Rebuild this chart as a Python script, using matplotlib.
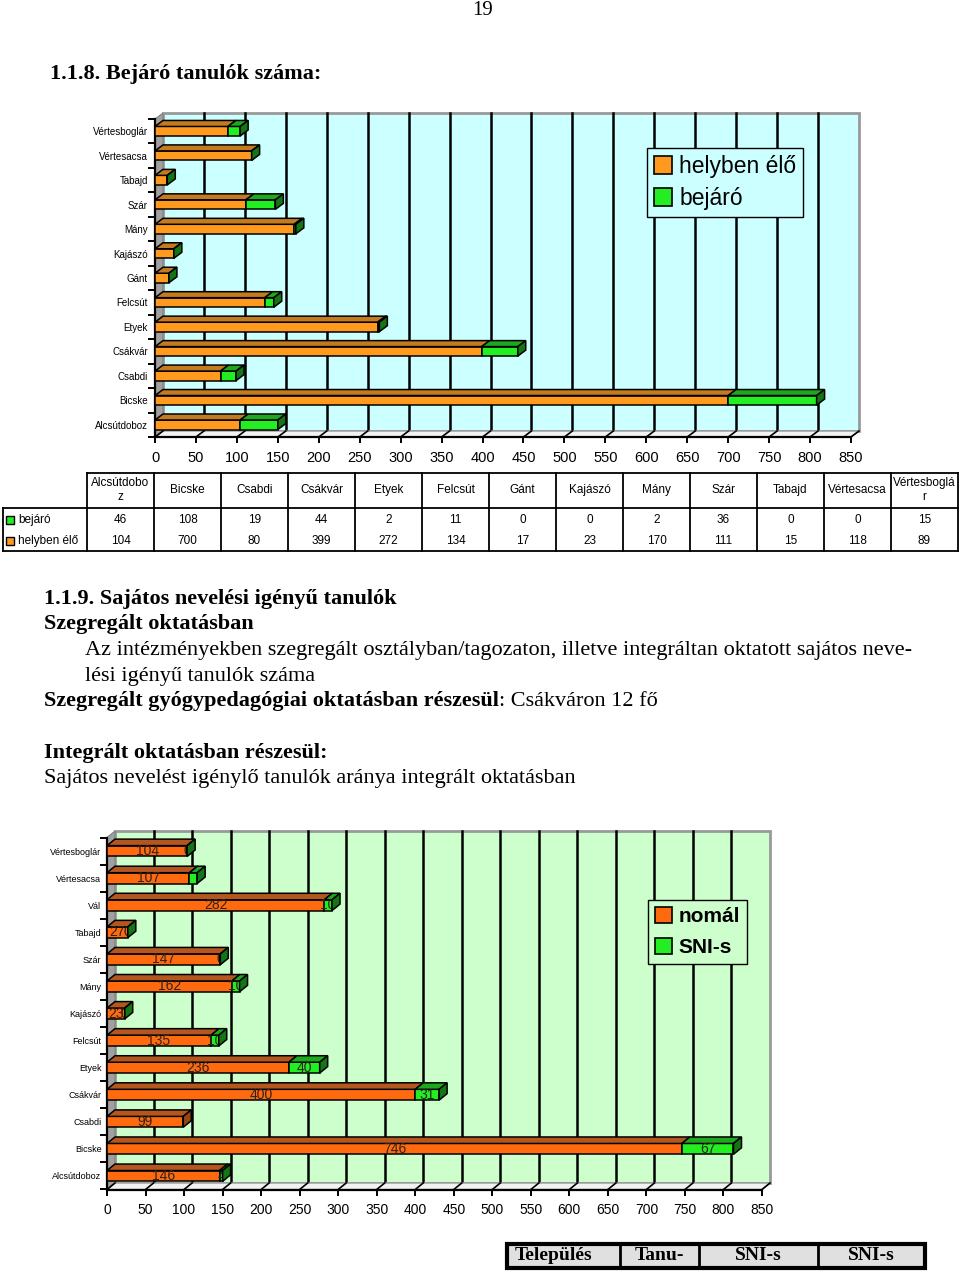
import numpy as np
import matplotlib.pyplot as plt
from matplotlib.patches import Polygon, Patch

plt.rcParams['font.family'] = ['Liberation Sans', 'DejaVu Sans']
SERIF = ['Liberation Serif', 'DejaVu Serif']

# ── data ─────────────────────────────────────────────────────────────────────
towns1 = ["Alcsútdoboz", "Bicske", "Csabdi", "Csákvár", "Etyek", "Felcsút", "Gánt",
          "Kajászó", "Mány", "Szár", "Tabajd", "Vértesacsa", "Vértesboglár"]
helyben = [104, 700, 80, 399, 272, 134, 17, 23, 170, 111, 15, 118, 89]
bejaro = [46, 108, 19, 44, 2, 11, 0, 0, 2, 36, 0, 0, 15]
head_wrap = {"Alcsútdoboz": "Alcsútdobo\nz", "Vértesboglár": "Vértesboglá\nr"}

towns2 = ["Alcsútdoboz", "Bicske", "Csabdi", "Csákvár", "Etyek", "Felcsút", "Kajászó",
          "Mány", "Szár", "Tabajd", "Vál", "Vértesacsa", "Vértesboglár"]
nomal = [146, 746, 99, 400, 236, 135, 23, 162, 147, 27, 282, 107, 104]
sni = [4, 67, None, 31, 40, 10, 0, 10, 0, 0, 10, 10, 0]
sni_no_label = ["Vértesacsa"]

bottom_head = ["Település", "Tanu-", "SNI-s", "SNI-s"]

# colours
wall1, wall2 = "#CCFFFF", "#CCFFCC"
or1, or1_top = "#FF9A1F", "#C47A1E"
or2, or2_top, or2_end = "#FF6A0E", "#B5561E", "#96460F"
gr, gr_top, gr_end = "#22EE22", "#1EA81E", "#137513"

W, H = 960, 1273
fig = plt.figure(figsize=(W / 100, H / 100), dpi=100)
page = fig.add_axes([0, 0, 1, 1])
page.set_xlim(0, W)
page.set_ylim(H, 0)
page.axis("off")


def px_axes(left, top, width, height):
    return fig.add_axes([left / W, 1 - (top + height) / H, width / W, height / H])


def frame3d(ax, xmax, n, dx, dy, wall):
    y0, y1 = -0.5, n - 0.5
    ax.add_patch(Polygon([(dx, y0 + dy), (xmax + dx, y0 + dy), (xmax + dx, y1 + dy), (dx, y1 + dy)],
                         fc=wall, ec="#999999", lw=2, zorder=0.5, clip_on=False))
    ax.add_patch(Polygon([(0, y0), (dx, y0 + dy), (dx, y1 + dy), (0, y1)],
                         fc="#A0A0A0", ec="#808080", lw=0.8, zorder=0.7, clip_on=False))
    ax.add_patch(Polygon([(0, y0), (xmax, y0), (xmax + dx, y0 + dy), (dx, y0 + dy)],
                         fc="#F2F2F2", ec="#999999", lw=1, zorder=0.7, clip_on=False))
    for v in np.arange(0, xmax + 1, 50):
        if 0 < v < xmax:
            ax.plot([v + dx, v + dx], [y0 + dy, y1 + dy], color="black", lw=1.8,
                    zorder=0.6, clip_on=False)
        ax.plot([v, v + dx], [y0, y0 + dy], color="black", lw=1.2, zorder=0.8, clip_on=False)
    ax.set_xlim(0, xmax)
    ax.set_ylim(y0, y1)
    ax.patch.set_visible(False)
    for s in ["top", "right"]:
        ax.spines[s].set_visible(False)
    for s in ["left", "bottom"]:
        ax.spines[s].set_linewidth(1.6)
    ax.set_xticks(np.arange(0, xmax + 1, 50))
    ax.set_yticks(np.arange(-0.5, n, 1), minor=True)
    ax.tick_params(axis="y", which="minor", length=5, width=1.4, direction="out")
    ax.tick_params(axis="x", length=4, width=1.4, direction="out", pad=6)


def faces3d(ax, y, left, width, h, dx, dy, top_col, zo=3):
    x0, x1 = left, left + width
    yt = y + h / 2
    ax.add_patch(Polygon([(x0, yt), (x1, yt), (x1 + dx, yt + dy), (x0 + dx, yt + dy)],
                         fc=top_col, ec="black", lw=1.1, zorder=zo, clip_on=False))


def end3d(ax, y, x, h, dx, dy, col, zo=5):
    ax.add_patch(Polygon([(x, y - h / 2), (x + dx, y - h / 2 + dy), (x + dx, y + h / 2 + dy), (x, y + h / 2)],
                         fc=col, ec="black", lw=1.1, zorder=zo, clip_on=False))


# ── page text ────────────────────────────────────────────────────────────────
page.text(483, 1, "19", family=SERIF, fontsize=15, ha="center", va="top")
page.text(50, 74, "1.1.8. Bejáró tanulók száma:", family=SERIF, fontsize=16,
          weight="bold", va="center")

# ── chart 1: bejáró tanulók ──────────────────────────────────────────────────
n1 = len(towns1)
ax1 = px_axes(155, 119, 696, 318)
dx1 = 8 * 850 / 696
dy1 = 6 * n1 / 318
frame3d(ax1, 850, n1, dx1, dy1, wall1)
y1 = np.arange(n1)
h1 = 0.39
ax1.barh(y1, helyben, height=h1, color=or1, edgecolor="black", lw=1.1, zorder=3)
ax1.barh(y1, bejaro, left=helyben, height=h1, color=gr, edgecolor="black", lw=1.1, zorder=3)
for i in range(n1):
    faces3d(ax1, i, 0, helyben[i], h1, dx1, dy1, or1_top)
    faces3d(ax1, i, helyben[i], bejaro[i], h1, dx1, dy1, gr_top)
    end3d(ax1, i, helyben[i] + bejaro[i], h1, dx1, dy1, gr_end)
ax1.set_yticks(y1)
ax1.set_yticklabels(towns1, fontsize=7)
ax1.tick_params(axis="y", which="major", length=0, pad=5)
ax1.tick_params(axis="x", labelsize=10.5)

fig.legend(handles=[Patch(fc=or1, ec="black", lw=1.2, label="helyben élő"),
                    Patch(fc=gr, ec="black", lw=1.2, label="bejáró")],
           loc="upper left", bbox_to_anchor=(647 / W, 1 - 148 / H), borderaxespad=0,
           fontsize=16.5, frameon=True, fancybox=False, edgecolor="black", facecolor=wall1,
           framealpha=1, handlelength=0.8, handleheight=0.8, handletextpad=0.3,
           labelspacing=0.4, borderpad=0.3)

# data table under chart 1
col_l, col_w = 87, 67
t_top, t_mid, t_bot = 473, 508, 551
fs_t = 8.5
for j, t in enumerate(towns1):
    cx = col_l + col_w * (j + 0.5)
    page.text(cx, 490, head_wrap.get(t, t), fontsize=fs_t, ha="center", va="center",
              linespacing=1.3)
    page.text(cx, 520, str(bejaro[j]), fontsize=fs_t, ha="center", va="center")
    page.text(cx, 541, str(helyben[j]), fontsize=fs_t, ha="center", va="center")
x_end = col_l + col_w * n1
page.plot([col_l, x_end], [t_top, t_top], color="black", lw=1.3)
page.plot([3, x_end], [t_mid, t_mid], color="black", lw=1.3)
page.plot([3, x_end], [t_bot, t_bot], color="black", lw=1.3)
page.plot([3, 3], [t_mid, t_bot], color="black", lw=1.3)
for j in range(n1 + 1):
    page.plot([col_l + col_w * j] * 2, [t_top, t_bot], color="black", lw=1.3)
for yy, lab, c in [(520, "bejáró", gr), (541, "helyben élő", or1)]:
    page.add_patch(plt.Rectangle((6, yy - 4), 8, 8, fc=c, ec="black", lw=1))
    page.text(18, yy, lab, fontsize=fs_t, va="center")

# ── section text ─────────────────────────────────────────────────────────────
fs_s = 16
page.text(44, 599, "1.1.9. Sajátos nevelési igényű tanulók", family=SERIF, fontsize=fs_s,
          weight="bold", va="center")
page.text(44, 624, "Szegregált oktatásban", family=SERIF, fontsize=fs_s, weight="bold",
          va="center")
page.text(85, 651, "Az intézményekben szegregált osztályban/tagozaton, illetve integráltan "
          "oktatott sajátos neve-", family=SERIF, fontsize=fs_s, va="center")
page.text(85, 676, "lési igényű tanulók száma", family=SERIF, fontsize=fs_s, va="center")
t_b = page.text(44, 701, "Szegregált gyógypedagógiai oktatásban részesül", family=SERIF,
                fontsize=fs_s, weight="bold", va="center")
page.annotate(": Csákváron 12 fő", xy=(1, 0), xycoords=t_b, va="bottom", ha="left",
              family=SERIF, fontsize=fs_s)
page.text(44, 753, "Integrált oktatásban részesül:", family=SERIF, fontsize=fs_s,
          weight="bold", va="center")
page.text(44, 778, "Sajátos nevelést igénylő tanulók aránya integrált oktatásban",
          family=SERIF, fontsize=fs_s, va="center")

# ── chart 2: integrált oktatás ───────────────────────────────────────────────
n2 = len(towns2)
ax2 = px_axes(107, 837.5, 655, 352)
dx2 = 8 * 850 / 655
dy2 = 6.5 * n2 / 352
frame3d(ax2, 850, n2, dx2, dy2, wall2)
y2 = np.arange(n2)
h2 = 0.4
sni_v = [0 if v is None else v for v in sni]
ax2.barh(y2, nomal, height=h2, color=or2, edgecolor="black", lw=1.1, zorder=3)
ax2.barh(y2, sni_v, left=nomal, height=h2, color=gr, edgecolor="black", lw=1.1, zorder=3)
lab_col = "#2E221C"
for i in range(n2):
    faces3d(ax2, i, 0, nomal[i], h2, dx2, dy2, or2_top)
    ax2.text(nomal[i] / 2, i, str(nomal[i]), fontsize=10, color=lab_col,
             ha="center", va="center", zorder=4)
    if sni[i] is None:
        end3d(ax2, i, nomal[i], h2, dx2, dy2, or2_end)
        continue
    faces3d(ax2, i, nomal[i], sni[i], h2, dx2, dy2, gr_top)
    end3d(ax2, i, nomal[i] + sni[i], h2, dx2, dy2, gr_end)
    if towns2[i] not in sni_no_label:
        ax2.text(nomal[i] + sni[i] / 2, i, str(sni[i]), fontsize=10, color=lab_col,
                 ha="center", va="center", zorder=4)
ax2.set_yticks(y2)
ax2.set_yticklabels(towns2, fontsize=6.5)
ax2.tick_params(axis="y", which="major", length=0, pad=4)
ax2.tick_params(axis="x", labelsize=10)

fig.legend(handles=[Patch(fc=or2, ec="black", lw=1.2, label="nomál"),
                    Patch(fc=gr, ec="black", lw=1.2, label="SNI-s")],
           loc="upper left", bbox_to_anchor=(648 / W, 1 - 900 / H), borderaxespad=0,
           prop={"size": 15, "weight": "bold"}, frameon=True, fancybox=False,
           edgecolor="black", facecolor=wall2, framealpha=1, handlelength=0.8,
           handleheight=0.8, handletextpad=0.3, labelspacing=0.55, borderpad=0.35)

# ── start of the next table ──────────────────────────────────────────────────
edges = [507, 620, 699, 818, 925]
page.add_patch(plt.Rectangle((edges[0], 1244), edges[-1] - edges[0], 24, fc="#E0E0E0",
                             ec="black", lw=3))
for e in edges[1:-1]:
    page.plot([e, e], [1244, 1268], color="black", lw=2)
for k, lab in enumerate(bottom_head):
    if k == 0:
        page.text(edges[0] + 8, 1256, lab, family=SERIF, fontsize=14, weight="bold",
                  va="center")
    else:
        page.text((edges[k] + edges[k + 1]) / 2, 1256, lab, family=SERIF, fontsize=14,
                  weight="bold", ha="center", va="center")

fig.savefig("out.png", dpi=100)
